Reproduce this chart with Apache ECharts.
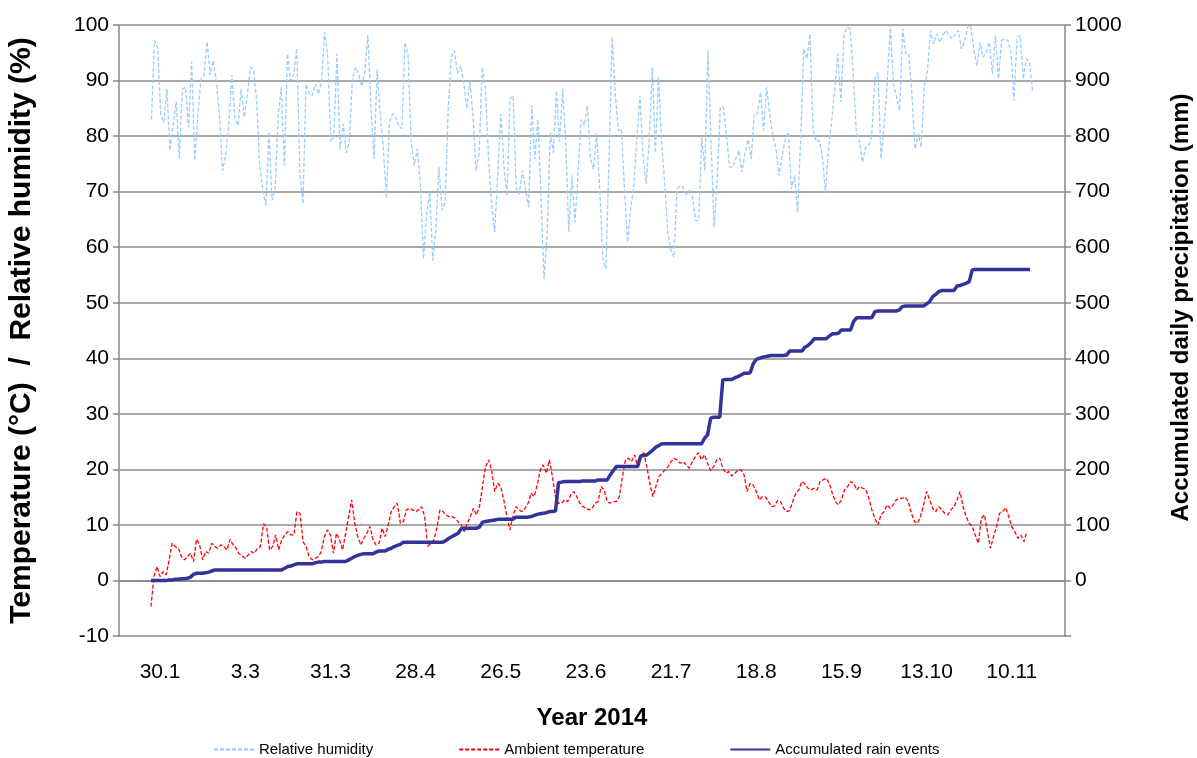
<!DOCTYPE html>
<html>
<head>
<meta charset="utf-8">
<script src="https://cdn.jsdelivr.net/npm/echarts@6/dist/echarts.min.js"></script>
<style>
  html, body { margin: 0; padding: 0; background: #fff; }
  #main { width: 1197px; height: 758px; }
</style>
</head>
<body>
<div id="main"></div>
<script>
// tick labels shown under the x axis (one per 28-day block)
const tickLabels = ['30.1', '3.3', '31.3', '28.4', '26.5', '23.6', '21.7', '18.8', '15.9', '13.10', '10.11']

// daily relative humidity (%)
const humidity = [
  83, 97.2, 96, 83.7, 82.5, 88.5, 77.4, 82, 86.2, 76, 88.5, 88.8, 81.6, 93.4, 75.6, 83.7, 90.3, 91, 97, 91,
  93.6, 89.7, 83.7, 73.8, 76.5, 81.9, 91, 83, 81.9, 88.5, 83.4, 87.3, 92.4, 91.8, 86.7, 74.7, 70.5, 67.5, 80.7, 68.4,
  70.5, 83.7, 88.8, 74.7, 94.8, 90, 91, 95.8, 73.5, 67.8, 89.4, 87.6, 87.3, 89.4, 87.6, 89.7, 98.7, 94.5,
  79, 80, 94.8, 77.7, 82.2, 77, 79, 90.3, 92.4, 91.2, 89, 91.5, 98.2, 85.5, 75.9, 92, 83.7, 77.7, 69, 82.5,
  84, 83.4, 81.9, 81.3, 96.9, 94.5, 79, 74.7, 77.7, 71, 57.9, 65.7, 70, 57.6, 63.3, 74.4, 66.6, 68.1, 84.9, 94.2,
  95.4, 91.2, 92.7, 89.7, 84.9, 90, 83.7, 73.8, 77, 92.4, 88.8, 76.5, 68.1, 62.7, 72.9, 84, 74.7, 69.3,
  86.7, 87.3, 70.5, 69.6, 73.8, 70.5, 67.2, 85.5, 75.9, 83, 69.3, 54.3, 62.1, 80.7, 77, 88.2, 79, 88.5, 79, 62.7,
  72.9, 64.5, 73.5, 83, 81.9, 85.5, 75.9, 74.1, 80.4, 70.5, 57.9, 56.1, 75.9, 97.8, 87.9, 81, 81.3, 70.5, 60.9, 66.9,
  71, 79.4, 87.3, 76.5, 71.4, 79, 92.4, 77, 90.6, 79, 71.7, 62.7, 59.4, 58.2, 70.5, 71, 70.8, 69.3,
  70.4, 69, 64.8, 64.8, 79.8, 73.8, 95.4, 79, 63.6, 72.3, 85.2, 85.2, 80.1, 74.4, 74.4, 75.9, 77.4, 73.5, 77, 79.4,
  75.9, 84, 84, 87.9, 81, 88.8, 83.7, 80.1, 77.7, 72.9, 76.5, 79.4, 80.7, 70.5, 72.9, 66.3, 79.4, 95.7, 93.9, 98.4,
  81.3, 79, 79.2, 76.5, 69.9, 77.7, 82.5, 88.5, 94.8, 86.1, 98.1, 99.6, 99.3, 91, 80.7, 79, 75.3, 78,
  78.3, 80.1, 90.3, 91.5, 75.9, 81.9, 89.7, 100, 89.4, 87, 84.6, 99.3, 94.8, 94.8, 87.3, 77.7, 80.4, 78, 89, 91.5,
  99, 96.6, 98.4, 96.9, 98.1, 99, 98.1, 97.5, 98.4, 99, 95.7, 96.9, 99.6, 99.9, 95.7, 92.7, 96.9, 94.2, 95.1, 96.9,
  91.2, 98.1, 90.3, 97.2, 97.5, 97.2, 95.1, 86.4, 97.8, 98.1, 90.3, 93.9, 93.3, 88.2
]

// daily ambient temperature (°C)
const temperature = [
  -4.7, 0.7, 2.5, 0.7, 1.6, 1.0, 3.7, 6.7, 6.1, 5.8, 4.3, 3.7, 4.3, 4.9, 3.4, 7.4, 6.4, 3.7, 5.2, 4.9,
  6.7, 6.1, 5.8, 6.4, 6.1, 5.5, 7.4, 6.4, 5.8, 4.8, 4.4, 4.0, 4.6, 5.2, 4.9, 5.8, 6.1, 10.2, 9.7, 5.5,
  6.1, 8.2, 5.5, 7.3, 8.2, 8.8, 8.2, 8.2, 12.4, 12.1, 7.0, 6.1, 4.3, 3.7, 4.0, 4.3, 5.2, 7.9,
  9.1, 8.2, 4.9, 8.5, 7.3, 5.5, 8.5, 11.5, 14.5, 10.3, 7.9, 6.4, 7.6, 8.5, 9.7, 7.3, 6.4, 6.7, 9.4, 7.9,
  10.0, 12.4, 13.3, 13.9, 10.3, 10.6, 12.7, 13.0, 12.7, 12.4, 12.7, 13.3, 11.5, 6.1, 6.7, 7.3, 9.4, 12.7, 12.4, 11.8,
  11.5, 11.5, 11.2, 10.6, 10.0, 8.8, 10.3, 11.5, 13.0, 11.8, 13.3, 16.9, 20.5, 21.7, 19.9, 16.0, 17.5, 16.9,
  14.5, 11.5, 9.1, 11.5, 13.3, 12.7, 12.4, 13.0, 13.9, 15.7, 15.1, 17.2, 19.9, 20.8, 19.3, 21.7, 18.7, 15.1, 13.9, 13.9,
  14.5, 14.2, 15.4, 16.0, 15.1, 13.9, 13.3, 13.0, 12.7, 13.0, 13.9, 14.2, 16.9, 16.3, 14.2, 13.9, 14.2, 14.2, 15.1, 18.7,
  21.7, 22.0, 21.4, 22.6, 20.5, 22.0, 23.2, 20.5, 17.5, 15.1, 16.9, 18.7, 19.3, 19.9, 20.5, 21.4, 22.0, 21.7, 21.1, 21.4, 20.8,
  20.2, 21.4, 22.3, 23.0, 21.7, 22.6, 21.1, 19.8, 20.5, 21.7, 22.0, 20.2, 19.3, 19.6, 18.8, 19.3, 19.9, 19.9, 19.0, 16.0,
  17.5, 17.2, 16.0, 14.5, 15.1, 15.0, 14.2, 13.3, 13.4, 14.4, 14.2, 13.0, 12.4, 12.6, 14.2, 15.7, 16.3, 17.8, 17.4, 16.6,
  16.3, 16.6, 16.3, 17.8, 18.1, 18.4, 17.5, 15.7, 14.2, 13.6, 14.5, 16.3, 16.9, 17.8, 17.5, 16.3, 16.9, 16.6,
  16.4, 14.8, 12.7, 11.2, 10.0, 11.8, 12.4, 13.6, 13.0, 13.6, 14.5, 14.7, 14.8, 15.0, 14.2, 12.1, 10.6, 10.3, 11.5, 13.6,
  16.0, 14.5, 13.0, 12.4, 13.3, 12.7, 12.1, 11.8, 12.7, 13.3, 14.5, 16.0, 13.3, 11.5, 10.3, 9.7, 8.2, 6.7, 11.2, 11.8,
  8.8, 5.8, 7.9, 9.7, 12.1, 12.4, 13.1, 11.5, 9.7, 8.8, 7.6, 8.2, 7.0, 8.8
]

// accumulated rain (mm)
const rain = [
  0, 0, 0, 0, 0, 0, 1, 1, 2, 2, 3, 3, 4, 6, 11, 13, 13, 13, 14, 15,
  17, 19, 19, 19, 19, 19, 19, 19, 19, 19, 19, 19, 19, 19, 19, 19, 19, 19, 19, 19,
  19, 19, 19, 19, 22, 25, 26, 28, 30, 30, 30, 30, 30, 30, 32, 33, 33, 34, 34, 34,
  34, 34, 34, 34, 34, 37, 40, 43, 45, 47, 48, 48, 48, 48, 51, 53, 53, 53, 56, 58,
  61, 63, 65, 69, 69, 69, 69, 69, 69, 69, 69, 69, 69, 69, 69, 69, 69, 72, 76, 79,
  82, 85, 93, 94, 94, 94, 94, 94, 96, 105, 106, 107, 108, 109, 110, 110, 110, 110, 110, 110,
  114, 114, 114, 114, 114, 115, 117, 119, 120, 121, 122, 124, 124, 125, 176, 177, 178, 178, 178, 178,
  178, 178, 179, 179, 179, 179, 179, 181, 181, 181, 181, 190, 198, 205, 205, 205, 205, 205, 205, 205,
  205, 224, 225, 226, 230, 235, 240, 243, 246, 246, 246, 246, 246, 246, 246, 246, 246, 246, 246, 246,
  246, 246, 256, 262, 292, 294, 294, 294, 361, 362, 362, 362, 365, 367, 370, 373, 373, 374, 390, 398,
  400, 402, 403, 404, 405, 405, 405, 405, 405, 406, 413, 413, 413, 413, 413, 420, 423, 428, 435, 435,
  435, 435, 435, 440, 444, 444, 445, 451, 451, 451, 451, 466, 473, 473, 473, 473, 473, 473, 484, 485,
  485, 485, 485, 485, 485, 485, 487, 493, 494, 494, 494, 494, 494, 494, 494, 498, 502, 511, 515, 520,
  522, 522, 522, 522, 522, 530, 531, 533, 535, 538, 559, 560, 560, 560, 560, 560, 560, 560, 560, 560,
  560, 560, 560, 560, 560, 560, 560, 560, 560, 560
]

const DAYS = 311      // category slots on the main x axis
const DAYS_RH = 306   // slots on the hidden axis used by the (slightly shorter) humidity record
const START = 10      // slot of the first measurement
const BLOCK = 28      // slots between ticks

const categories = Array.from({ length: DAYS }, (_, i) => String(i))
const categoriesRH = Array.from({ length: DAYS_RH }, (_, i) => String(i))
const toPairs = arr => arr.map((v, i) => [i + START, v])

const font = '"Liberation Sans", Arial, sans-serif'
const gridColor = '#8c8c8c'
const axisColor = '#868686'
const titleStyle = { fontSize: 24, fontWeight: 'bold', color: '#000', fontFamily: font }

const myChart = echarts.init(document.getElementById('main'))
const option = {
  backgroundColor: '#ffffff',
  animation: false,
  textStyle: { fontFamily: font },
  grid: { left: 119, right: 132, top: 25, bottom: 122, containLabel: false, outerBoundsMode: 'none' },
  legend: {
    top: 737,
    left: 208,
    itemWidth: 40,
    itemHeight: 12,
    itemGap: 85,
    itemStyle: { opacity: 0 },
    textStyle: { fontSize: 15, color: '#000', fontFamily: font },
    data: ['Relative humidity', 'Ambient temperature', 'Accumulated rain events']
  },
  xAxis: [
    {
      type: 'category',
      data: categories,
      boundaryGap: true,
      name: 'Year 2014',
      nameLocation: 'middle',
      nameGap: 70,
      nameTextStyle: titleStyle,
      axisLine: { lineStyle: { color: axisColor, width: 1.5 } },
      axisTick: {
        interval: (idx) => idx % BLOCK === 0,
        length: 8,
        lineStyle: { color: axisColor, width: 1.5 }
      },
      axisLabel: {
        interval: (idx) => idx % BLOCK === 13,
        formatter: (val, idx) => tickLabels[Math.round((idx - 13) / BLOCK)] || '',
        fontSize: 21,
        color: '#000',
        margin: 26
      },
      splitLine: { show: false }
    },
    {
      type: 'category',
      data: categoriesRH,
      boundaryGap: true,
      show: false
    }
  ],
  yAxis: [
    {
      type: 'value',
      min: -10,
      max: 100,
      interval: 10,
      name: 'Temperature (°C)  /  Relative humidity (%)',
      nameLocation: 'middle',
      nameGap: 82,
      nameTextStyle: Object.assign({}, titleStyle, { fontSize: 30 }),
      axisLine: { show: true, lineStyle: { color: axisColor, width: 1.5 } },
      axisTick: { show: true, length: 6, lineStyle: { color: axisColor, width: 1.5 } },
      axisLabel: { fontSize: 21, color: '#000', margin: 10 },
      splitLine: { lineStyle: { color: gridColor, width: 1.5 } }
    },
    {
      type: 'value',
      min: -100,
      max: 1000,
      interval: 100,
      name: 'Accumulated daily precipitation (mm)',
      nameLocation: 'middle',
      nameGap: 104,
      nameTextStyle: Object.assign({ padding: [0, 0, 0, 46] }, titleStyle),
      axisLine: { show: true, lineStyle: { color: axisColor, width: 1.5 } },
      axisTick: { show: true, length: 6, lineStyle: { color: axisColor, width: 1.5 } },
      axisLabel: {
        fontSize: 21,
        color: '#000',
        margin: 10,
        formatter: (v) => (v < 0 ? '' : v)
      },
      splitLine: { show: false }
    }
  ],
  series: [
    {
      name: 'Relative humidity',
      type: 'line',
      xAxisIndex: 1,
      yAxisIndex: 0,
      data: toPairs(humidity),
      symbol: 'none',
      color: '#99ccff',
      lineStyle: { color: '#99ccff', width: 1.3, type: [4, 2] }
    },
    {
      name: 'Ambient temperature',
      type: 'line',
      xAxisIndex: 0,
      yAxisIndex: 0,
      data: toPairs(temperature),
      symbol: 'none',
      color: '#ff0000',
      lineStyle: { color: '#ff0000', width: 1.3, type: [4, 2] }
    },
    {
      name: 'Accumulated rain events',
      type: 'line',
      xAxisIndex: 0,
      yAxisIndex: 1,
      data: toPairs(rain),
      symbol: 'none',
      color: '#333399',
      lineStyle: { color: '#333399', width: 3.5 }
    }
  ]
}
myChart.setOption(option)
</script>
</body>
</html>
